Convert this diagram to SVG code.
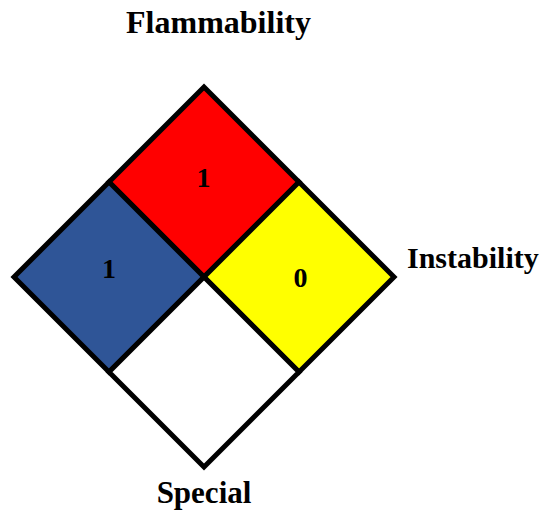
<svg xmlns="http://www.w3.org/2000/svg" width="547" height="516" viewBox="0 0 547 516">
<style>
.q{stroke:#000;stroke-width:5;stroke-linejoin:miter}
text{font-family:'Liberation Serif','Times New Roman',Times,serif;font-weight:700;fill:#000}
.lbl{font-size:30px}
.num{font-size:28px;text-anchor:middle}
</style>
<rect width="547" height="516" fill="#fff"/>
<g id="flammability">
<polygon class="q" fill="#ff0000" points="204,87 299,182 204,277 109,182"/>
<text class="num" x="203.5" y="187">1</text>
</g>
<g id="health">
<polygon class="q" fill="#2f5597" points="109,182 204,277 109,372 14,277"/>
<text class="num" x="109" y="278">1</text>
</g>
<g id="instability">
<polygon class="q" fill="#ffff00" points="299,182 394,277 299,372 204,277"/>
<text class="num" x="300.5" y="287">0</text>
</g>
<g id="special">
<polygon class="q" fill="#ffffff" points="204,277 299,372 204,467 109,372"/>
</g>
<g id="labels">
<text class="lbl" x="218.5" y="33" text-anchor="middle" style="font-size:32px">Flammability</text>
<text class="lbl" x="407" y="268">Instability</text>
<text class="lbl" x="204" y="503" text-anchor="middle" style="font-size:31px">Special</text>
</g>
</svg>
